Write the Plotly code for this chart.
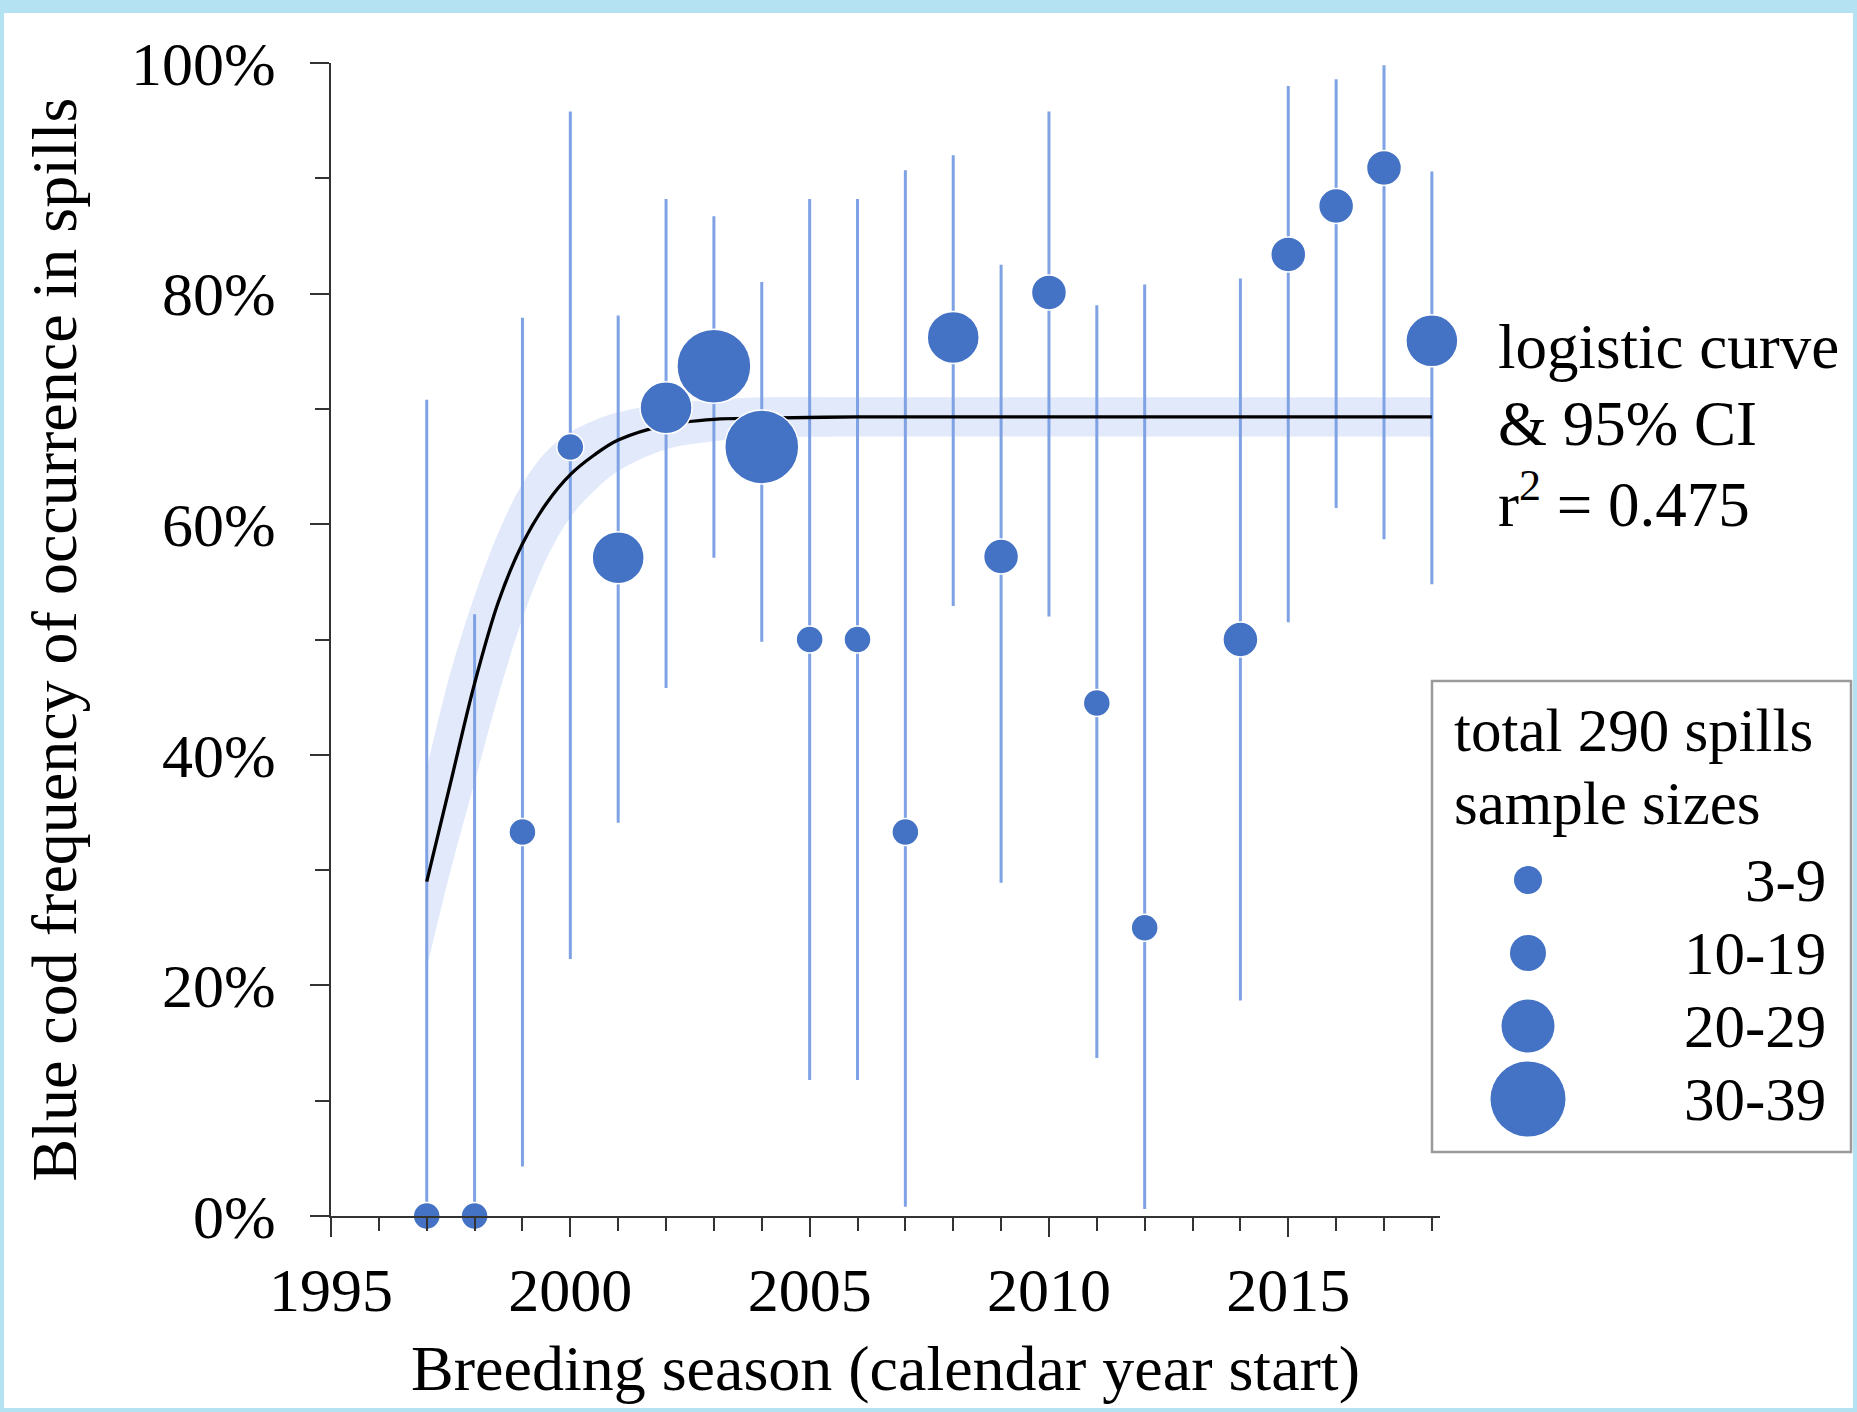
import plotly.graph_objects as go

# ---------------- data ----------------
years = [1997, 1998, 1999, 2000, 2001, 2002, 2003, 2004, 2005, 2006, 2007,
         2008, 2009, 2010, 2011, 2012, 2014, 2015, 2016, 2017, 2018]
freq = [0.0, 0.0, 33.3, 66.7, 57.1, 70.1, 73.7, 66.7, 50.0, 50.0, 33.3,
        76.2, 57.2, 80.1, 44.5, 25.0, 50.0, 83.4, 87.6, 90.9, 75.9]
ci_low = [0.0, 0.0, 4.3, 22.3, 34.1, 45.8, 57.1, 49.8, 11.8, 11.8, 0.8,
          52.9, 28.9, 52.0, 13.7, 0.6, 18.7, 51.5, 61.4, 58.7, 54.8]
ci_high = [70.8, 52.2, 77.9, 95.8, 78.1, 88.2, 86.7, 81.0, 88.2, 88.2, 90.7,
           92.0, 82.5, 95.8, 79.0, 80.8, 81.3, 98.0, 98.6, 99.8, 90.6]
sample_class = ["3-9", "3-9", "3-9", "3-9", "20-29", "20-29", "30-39", "30-39",
                "3-9", "3-9", "3-9", "20-29", "10-19", "10-19", "3-9", "3-9",
                "10-19", "10-19", "10-19", "10-19", "20-29"]

# logistic fit and its 95% CI
fit_x = [1997, 1997.5, 1998, 1998.5, 1999, 1999.5, 2000, 2000.5, 2001, 2002,
         2003, 2004, 2006, 2008, 2010, 2012, 2014, 2016, 2018]
fit_y = [29.0, 37.6, 46.2, 53.3, 58.3, 61.8, 64.3, 66.0, 67.3, 68.6,
         69.1, 69.2, 69.3, 69.3, 69.3, 69.3, 69.3, 69.3, 69.3]
fit_lo = [21.5, 30.0, 37.6, 45.2, 51.8, 57.0, 60.6, 62.9, 64.6, 66.5,
          67.2, 67.5, 67.6, 67.6, 67.6, 67.6, 67.6, 67.6, 67.6]
fit_hi = [38.8, 47.2, 53.8, 59.3, 63.5, 66.3, 68.0, 69.0, 69.7, 70.5,
          70.8, 71.0, 71.0, 71.0, 71.0, 71.0, 71.0, 71.0, 71.0]

legend_classes = ["3-9", "10-19", "20-29", "30-39"]
legend_title = ["total 290 spills", "sample sizes"]
annotation_lines = ["logistic curve", "&amp; 95% CI", "r<sup>2</sup> = 0.475"]

# ---------------- styles ----------------
W, H = 1857, 1412
FONT = "Liberation Serif, Times New Roman, serif"
BLUE = "#4472C4"
BAR = "#7FA2E4"
BAND = "#E1E9FB"
AXC = "#333333"
size_px = {"3-9": 27, "10-19": 35, "20-29": 52, "30-39": 74}

def px_x(p):
    return p / W

def px_y(p):
    return 1 - p / H

pct = lambda v: [a / 100 for a in v]

fig = go.Figure()

# CI band of the logistic curve
fig.add_trace(go.Scatter(x=fit_x, y=pct(fit_hi), mode="lines",
                         line=dict(width=0, shape="spline"), hoverinfo="skip",
                         showlegend=False))
fig.add_trace(go.Scatter(x=fit_x, y=pct(fit_lo), mode="lines", fill="tonexty",
                         fillcolor=BAND, line=dict(width=0, shape="spline"),
                         hoverinfo="skip", showlegend=False))

# error bars (95% CI of each season)
fig.add_trace(go.Scatter(
    x=years, y=pct(freq), mode="markers", cliponaxis=False,
    marker=dict(size=1, color="rgba(0,0,0,0)"),
    error_y=dict(type="data", symmetric=False,
                 array=[(h - f) / 100 for h, f in zip(ci_high, freq)],
                 arrayminus=[(f - l) / 100 for f, l in zip(freq, ci_low)],
                 color=BAR, thickness=3, width=0),
    hoverinfo="skip", showlegend=False))

# logistic curve
fig.add_trace(go.Scatter(x=fit_x, y=pct(fit_y), mode="lines",
                         line=dict(color="black", width=3.3, shape="spline"),
                         showlegend=False))

# observed frequencies
fig.add_trace(go.Scatter(
    x=years, y=pct(freq), mode="markers", cliponaxis=False,
    marker=dict(size=[size_px[c] for c in sample_class], color=BLUE, opacity=1,
                line=dict(color="white", width=1.5)),
    showlegend=False))

# sample-size key (drawn on an auxiliary axis inside the key box)
fig.add_trace(go.Scatter(
    x=[0] * len(legend_classes), y=list(range(len(legend_classes))),
    mode="markers", xaxis="x2", yaxis="y2", cliponaxis=False,
    marker=dict(size=[size_px[c] + 1 for c in legend_classes], color=BLUE,
                opacity=1, line=dict(width=0)),
    hoverinfo="skip", showlegend=False))

axis_common = dict(showline=True, linecolor=AXC, linewidth=2, ticks="outside",
                   ticklen=19, tickwidth=2, tickcolor=AXC, showgrid=False,
                   zeroline=False, automargin=False,
                   tickfont=dict(family=FONT, size=62, color="black"))

fig.update_layout(
    width=W, height=H, autosize=False,
    margin=dict(l=0, r=0, t=0, b=0, pad=0),
    paper_bgcolor="#B5E2F2", plot_bgcolor="white",
    font=dict(family=FONT, color="black"),
    xaxis=dict(domain=[px_x(331), px_x(1440)], range=[1995, 2018.17],
               tickmode="linear", tick0=1995, dtick=5, ticklabelstandoff=0,
               minor=dict(ticks="outside", dtick=1, tick0=1995, ticklen=13,
                          tickwidth=2, tickcolor=AXC, showgrid=False),
               title=dict(text="Breeding season (calendar year start)",
                          font=dict(family=FONT, size=64), standoff=22),
               **axis_common),
    yaxis=dict(domain=[1 - 1216 / H, 1 - 63 / H], range=[0, 1],
               tickmode="linear", tick0=0, dtick=0.2, tickformat=".0%",
               ticklabelstandoff=22,
               minor=dict(ticks="outside", dtick=0.1, tick0=0, ticklen=14,
                          tickwidth=2, tickcolor=AXC, showgrid=False),
               title=dict(text="Blue cod frequency of occurrence in spills",
                          font=dict(family=FONT, size=64), standoff=34),
               **axis_common),
    xaxis2=dict(domain=[px_x(1432), px_x(1851)], range=[-96, 323],
                visible=False, fixedrange=True, automargin=False),
    yaxis2=dict(domain=[px_y(1152), px_y(681)],
                range=[(1152 - 880) / 73, (681 - 880) / 73],
                visible=False, fixedrange=True, anchor="x2", automargin=False),
    showlegend=False,
)

shapes = [
    # white page inside the light-blue frame
    dict(type="rect", xref="paper", yref="paper", x0=px_x(4), x1=px_x(1853),
         y0=px_y(1408), y1=px_y(13), fillcolor="white", line=dict(width=0),
         layer="below"),
    # key box
    dict(type="rect", xref="paper", yref="paper", x0=px_x(1432), x1=px_x(1851),
         y0=px_y(1152), y1=px_y(681), fillcolor="rgba(0,0,0,0)",
         line=dict(color="#9a9a9a", width=2.5)),
]
fig.update_layout(shapes=shapes)

ann = []
for i, line in enumerate(annotation_lines):
    ann.append(dict(text=line, xref="paper", yref="paper", x=px_x(1496),
                    y=px_y(347 + 77 * i), xanchor="left", yanchor="middle",
                    showarrow=False, font=dict(family=FONT, size=63, color="black")))
for i, line in enumerate(legend_title):
    ann.append(dict(text=line, xref="paper", yref="paper", x=px_x(1452),
                    y=px_y(730 + 73 * i), xanchor="left", yanchor="middle",
                    showarrow=False, font=dict(family=FONT, size=61, color="black")))
for i, lab in enumerate(legend_classes):
    ann.append(dict(text=lab, xref="x2", yref="y2", x=300, y=i,
                    xanchor="right", yanchor="middle", showarrow=False,
                    font=dict(family=FONT, size=61, color="black")))
fig.update_layout(annotations=ann)

fig.write_html("out.html",
               config={"displayModeBar": False, "staticPlot": True},
               post_script="document.body.style.margin='0px';"
                           "document.body.style.padding='0px';")
